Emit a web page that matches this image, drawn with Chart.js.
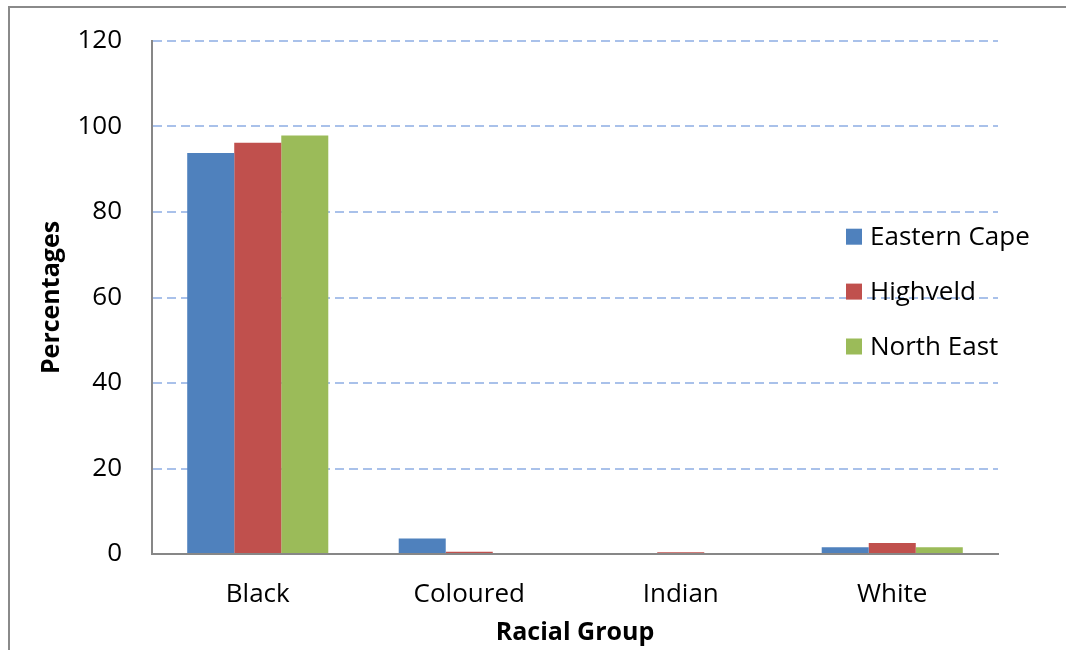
<!DOCTYPE html>
<html>
<head>
<meta charset="utf-8">
<title>Racial Group</title>
<script src="https://cdn.jsdelivr.net/npm/chart.js@4/dist/chart.umd.min.js"></script>
<style>
  body { margin: 0; background: #fff; }
  #frame {
    position: absolute; left: 8px; top: 6px;
    border-left: 2px solid #8a8a8a; border-top: 2px solid #8a8a8a;
  }
  canvas { display: block; }
</style>
</head>
<body>
<div id="frame"><canvas id="raceChart" width="1056" height="642"></canvas></div>
<script>
const groups = ['Black', 'Coloured', 'Indian', 'White'];
const easternCape = [93.8, 3.6, 0, 1.6];
const highveld = [96.2, 0.5, 0.4, 2.6];
const northEast = [97.9, 0, 0, 1.6];
const regions = ['Eastern Cape', 'Highveld', 'North East'];
const yTicks = [0, 20, 40, 60, 80, 100, 120];

const FONT = "'Open Sans', sans-serif";

// legend sits inside the plot, over the gridlines
const insideLegend = {
    id: 'insideLegend',
    afterDatasetsDraw(chart) {
        const ctx = chart.ctx;
        const x = chart.chartArea.right - 152;
        const y0 = 228.7;
        ctx.save();
        ctx.font = '26px ' + FONT;
        ctx.textBaseline = 'middle';
        chart.data.datasets.forEach((ds, i) => {
            const y = y0 + i * 54.9;
            ctx.fillStyle = ds.backgroundColor;
            ctx.fillRect(x, y - 8, 16, 16);
            ctx.fillStyle = '#000';
            ctx.fillText(ds.label, x + 24, y + 1);
        });
        ctx.restore();
    }
};

const ctx = document.getElementById('raceChart').getContext('2d');
const chart = new Chart(ctx, {
    type: 'bar',
    data: {
        labels: groups,
        datasets: [
            { label: regions[0], data: easternCape, backgroundColor: '#4F81BD' },
            { label: regions[1], data: highveld, backgroundColor: '#C0504D' },
            { label: regions[2], data: northEast, backgroundColor: '#9BBB59' }
        ]
    },
    options: {
        responsive: false,
        animation: false,
        devicePixelRatio: 1,
        layout: { padding: { top: 33, right: 68, left: 0, bottom: 0 } },
        datasets: { bar: { categoryPercentage: 0.667, barPercentage: 1, borderWidth: 0 } },
        plugins: { legend: { display: false }, tooltip: { enabled: false } },
        scales: {
            x: {
                grid: { display: false, drawTicks: false },
                border: { display: true, color: '#878787', width: 2 },
                ticks: { color: '#000', padding: 25, font: { family: FONT, size: 26 } },
                title: {
                    display: true, text: 'Racial Group', color: '#000',
                    padding: { top: 0, bottom: 2 },
                    font: { family: FONT, size: 25, weight: 'bold' }
                },
                afterFit(scale) { scale.height = 96; }
            },
            y: {
                min: 0,
                max: 120,
                afterBuildTicks(scale) { scale.ticks = yTicks.map(v => ({ value: v })); },
                grid: { color: '#a9c1ea', lineWidth: 2, drawTicks: false },
                border: { display: true, color: '#878787', width: 2, dash: [9, 5] },
                ticks: { color: '#000', padding: 30, font: { family: FONT, size: 26 } },
                title: {
                    display: true, text: 'Percentages', color: '#000',
                    padding: { top: 26.5, bottom: 0 },
                    font: { family: FONT, size: 25, weight: 'bold' }
                },
                afterFit(scale) {
                    scale.width = 142;
                    // tick padding should not push the plot down
                    scale.paddingTop = 0;
                    scale.paddingBottom = 0;
                }
            }
        }
    },
    plugins: [insideLegend]
});
</script>
</body>
</html>
